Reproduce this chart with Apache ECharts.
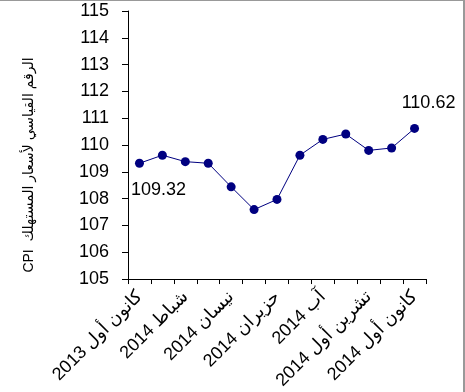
<!DOCTYPE html>
<html>
<head>
<meta charset="utf-8">
<script src="https://cdn.jsdelivr.net/npm/echarts@6/dist/echarts.min.js"></script>
<style>
html,body{margin:0;padding:0;background:#fff;}
#wrap{width:465px;height:392px;box-sizing:border-box;border-top:1px solid #999;border-right:2px solid #999;overflow:hidden;}
#chart{width:463px;height:391px;}
</style>
</head>
<body>
<div id="wrap"><div id="chart"></div></div>
<script>
const categories = ['كانون أول 2013','كانون ثاني 2014','شباط 2014','آذار 2014','نيسان 2014','أيار 2014','حزيران 2014','تموز 2014','آب 2014','أيلول 2014','تشرين أول 2014','تشرين ثاني 2014','كانون أول 2014'];
const cpiValues = [109.32, 109.62, 109.38, 109.32, 108.44, 107.59, 107.97, 109.62, 110.21, 110.41, 109.80, 109.89, 110.62];
const yAxisName = 'CPI  الرقم القياسي لأسعار المستهلك';
const yMin = 105, yMax = 115, yStep = 1;

const FONT = '"Liberation Sans", Arial, "DejaVu Sans", sans-serif';
const last = cpiValues.length - 1;
const seriesData = cpiValues.map((v, i) => {
  if (i === 0) return {value: v, label: {show: true, position: 'bottom', offset: [19, 8]}};
  if (i === last) return {value: v, label: {show: true, position: 'top', offset: [14, -7]}};
  return v;
});

const chart = echarts.init(document.getElementById('chart'), null, {renderer: 'canvas'});
chart.setOption({
  animation: false,
  backgroundColor: '#fff',
  grid: {left: 128, right: 37, top: 10, bottom: 112},
  xAxis: {
    type: 'category',
    data: categories,
    boundaryGap: true,
    axisLine: {lineStyle: {color: '#000', width: 1}},
    axisTick: {show: true, interval: 0, length: 5, lineStyle: {color: '#000'}},
    axisLabel: {interval: 1, rotate: 45, margin: 15, color: '#000', fontSize: 18, fontFamily: FONT},
    splitLine: {show: false}
  },
  yAxis: {
    type: 'value',
    min: yMin, max: yMax, interval: yStep,
    name: yAxisName,
    nameLocation: 'middle',
    nameGap: 92,
    nameRotate: 90,
    nameTextStyle: {color: '#000', fontSize: 14, fontFamily: FONT, padding: [0, 40, 0, 0]},
    axisLine: {show: true, lineStyle: {color: '#000', width: 1}},
    axisTick: {show: true, length: 6, lineStyle: {color: '#000'}},
    axisLabel: {color: '#000', fontSize: 18, fontFamily: FONT, margin: 19},
    splitLine: {show: false}
  },
  series: [{
    type: 'line',
    data: seriesData,
    symbol: 'circle',
    symbolSize: 9,
    itemStyle: {color: '#000080'},
    lineStyle: {color: '#000080', width: 1},
    label: {show: false, color: '#000', fontSize: 18, fontFamily: FONT},
    emphasis: {disabled: true}
  }]
});
</script>
</body>
</html>
